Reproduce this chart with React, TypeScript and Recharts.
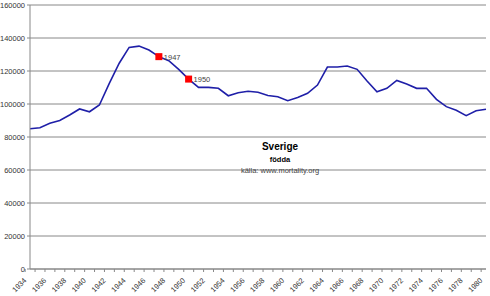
import { LineChart, Line, XAxis, YAxis, CartesianGrid } from "recharts";

const years = [
  1934, 1935, 1936, 1937, 1938, 1939, 1940, 1941, 1942, 1943, 1944, 1945,
  1946, 1947, 1948, 1949, 1950, 1951, 1952, 1953, 1954, 1955, 1956, 1957,
  1958, 1959, 1960, 1961, 1962, 1963, 1964, 1965, 1966, 1967, 1968, 1969,
  1970, 1971, 1972, 1973, 1974, 1975, 1976, 1977, 1978, 1979, 1980,
];

// live births per year, Sweden
const births = [
  85000, 85600, 88300, 90000, 93300, 97000, 95300, 99400, 112500, 124700, 134300, 135100,
  132700, 128700, 126200, 121000, 115100, 110100, 110100, 109500, 105000, 106800, 107700, 107100,
  105200, 104400, 102000, 104000, 106500, 111500, 122400, 122400, 123000, 121000, 113900, 107400,
  109500, 114300, 112100, 109500, 109500, 102800, 98400, 96200, 92900, 95900, 96800,
];

const markedYears = [1947, 1950];
const yTicks = [0, 20000, 40000, 60000, 80000, 100000, 120000, 140000, 160000];

const data = years.map((year, i) => ({
  year,
  births: births[i],
  mark: markedYears.includes(year) ? births[i] : null,
}));

const W = 490;
const H = 296;
const LEFT = 30;
const RIGHT = 4;
const FONT = "'Liberation Sans', Arial, sans-serif";
const AXIS = "#888";

function YearTick(props: any) {
  const { x, y, payload, index } = props;
  const band = (W - LEFT - RIGHT) / years.length;
  const last = index === years.length - 1;
  const ax = x - 3;
  const ay = y + 12;
  return (
    <g>
      <line x1={x - band / 2} x2={x - band / 2} y1={y} y2={y + 3} stroke={AXIS} />
      {last && <line x1={x + band / 2} x2={x + band / 2} y1={y} y2={y + 3} stroke={AXIS} />}
      {index % 2 === 0 && (
        <text
          x={ax}
          y={ay}
          textAnchor="end"
          fontSize={7.5}
          fontFamily={FONT}
          fill="#333"
          transform={`rotate(-45 ${ax} ${ay})`}
        >
          {payload.value}
        </text>
      )}
    </g>
  );
}

function MarkDot(props: any) {
  const { cx, cy, payload } = props;
  if (payload.mark == null || cx == null || cy == null) return <g key={props.key} />;
  return (
    <g key={props.key}>
      <rect x={cx - 3.5} y={cy - 3.5} width={7} height={7} fill="#ff0000" />
      <text x={cx + 5} y={cy + 3} fontSize={7.5} fontFamily={FONT} fill="#444">
        {payload.year}
      </text>
    </g>
  );
}

export default function App() {
  return (
    <div style={{ position: "fixed", left: 0, top: 0, width: W, height: H, background: "#fff" }}>
      <LineChart width={W} height={H} data={data} margin={{ top: 5, right: RIGHT, left: 0, bottom: 0 }}>
        <CartesianGrid horizontal vertical={false} stroke={AXIS} strokeDasharray="" />
        <XAxis
          dataKey="year"
          interval={0}
          height={27}
          tickSize={0}
          tickMargin={0}
          tickLine={false}
          axisLine={{ stroke: AXIS }}
          tick={<YearTick />}
        />
        <YAxis
          width={LEFT}
          domain={[0, 160000]}
          ticks={yTicks}
          interval={0}
          tickSize={3}
          tickMargin={2}
          axisLine={{ stroke: AXIS }}
          tickLine={{ stroke: AXIS }}
          tick={{ fontSize: 7.5, fontFamily: FONT, fill: "#333" }}
        />
        <Line
          dataKey="births"
          stroke="#1f1fa8"
          strokeWidth={1.6}
          dot={false}
          isAnimationActive={false}
        />
        <Line
          dataKey="mark"
          stroke="none"
          dot={<MarkDot />}
          activeDot={false}
          isAnimationActive={false}
        />
      </LineChart>
      <div
        style={{
          position: "absolute",
          left: 230,
          top: 142,
          width: 100,
          textAlign: "center",
          fontFamily: FONT,
          color: "#000",
          lineHeight: 1,
        }}
      >
        <div style={{ fontSize: 10, fontWeight: "bold" }}>Sverige</div>
        <div style={{ fontSize: 7.5, fontWeight: "bold", marginTop: 4 }}>födda</div>
        <div style={{ fontSize: 7.5, color: "#444", marginTop: 3 }}>källa: www.mortality.org</div>
      </div>
    </div>
  );
}
